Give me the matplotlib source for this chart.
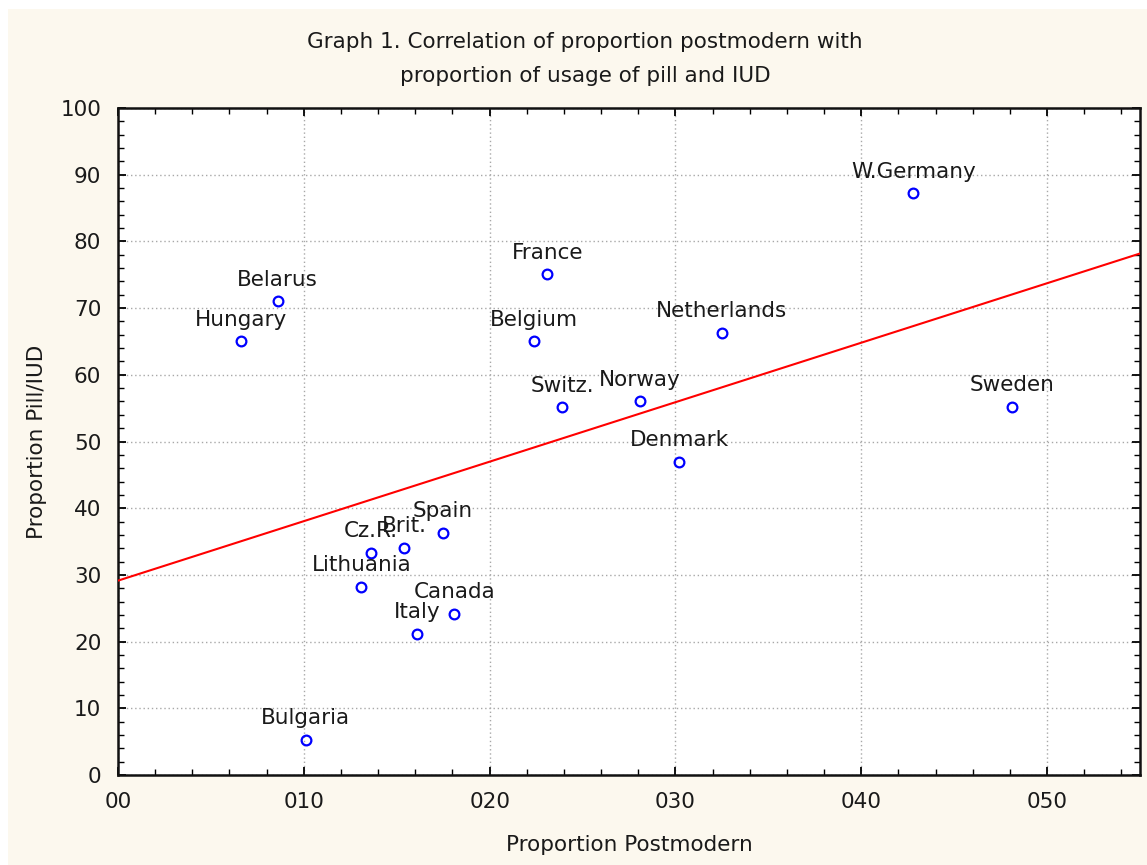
import numpy as np
import matplotlib.pyplot as plt
from matplotlib.patches import Rectangle
from matplotlib.ticker import MultipleLocator, FixedLocator, FixedFormatter

# country values: proportion postmodern vs proportion pill/IUD
countries = ['Hungary', 'Belarus', 'Bulgaria', 'France', 'Belgium', 'Switz.',
             'Norway', 'Netherlands', 'Denmark', 'W.Germany', 'Sweden',
             'Cz.R.', 'Brit.', 'Spain', 'Lithuania', 'Canada', 'Italy']
postmodern = [0.066, 0.086, 0.101, 0.231, 0.224, 0.239,
              0.281, 0.325, 0.302, 0.428, 0.481,
              0.136, 0.154, 0.175, 0.131, 0.181, 0.161]
pill_iud = [65.0, 71.0, 5.3, 75.1, 65.0, 55.1,
            56.0, 66.3, 47.0, 87.2, 55.2,
            33.3, 34.1, 36.3, 28.2, 24.2, 21.2]

xtick_values = [0.0, 0.1, 0.2, 0.3, 0.4, 0.5]
xtick_labels = ['00', '010', '020', '030', '040', '050']

title_lines = ['Graph 1. Correlation of proportion postmodern with',
               'proportion of usage of pill and IUD']

plt.rcParams['font.family'] = 'DejaVu Sans'
plt.rcParams['font.size'] = 15.5

fig = plt.figure(figsize=(11.47, 8.65), dpi=100)
fig.patch.set_facecolor('white')
# cream panel behind the chart
fig.patches.append(Rectangle((8 / 1147, 0), 1 - 8 / 1147, 1 - 9 / 865,
                             transform=fig.transFigure, facecolor='#FCF8EE',
                             edgecolor='none', zorder=-10))

ax = fig.add_axes([118 / 1147, 1 - 775 / 865, (1140 - 118) / 1147, (775 - 108) / 865])
ax.set_facecolor('white')

x = np.array(postmodern)
y = np.array(pill_iud)

# least squares fit line
slope, intercept = np.polyfit(x, y, 1)
xl = np.array([0.0, 0.55])
ax.plot(xl, intercept + slope * xl, color='#FF0000', lw=1.5, zorder=3)

ax.plot(x, y, linestyle='none', marker='o', markersize=7, markerfacecolor='none',
        markeredgecolor='#0000FF', markeredgewidth=1.6, zorder=4)

for name, xv, yv in zip(countries, x, y):
    ax.annotate(name, (xv, yv), xytext=(0, 15.5), textcoords='offset points',
                ha='center', va='center', fontsize=15.5, color='#1a1a1a', zorder=5)

ax.set_xlim(0, 0.55)
ax.set_ylim(0, 100)
ax.xaxis.set_major_locator(FixedLocator(xtick_values))
ax.xaxis.set_major_formatter(FixedFormatter(xtick_labels))
ax.xaxis.set_minor_locator(MultipleLocator(0.02))
ax.yaxis.set_major_locator(MultipleLocator(10))
ax.yaxis.set_minor_locator(MultipleLocator(2))

ax.tick_params(which='both', direction='in', top=True, right=True, color='black')
ax.tick_params(which='major', length=6, width=1.3, pad=12, labelsize=15.5, labelcolor='#1a1a1a')
ax.tick_params(which='minor', length=4, width=1.0)
for sp in ax.spines.values():
    sp.set_linewidth(1.8)
    sp.set_color('#111111')

ax.grid(True, which='major', linestyle=(0, (1, 2)), color='#A8A8A8', lw=1.0)
ax.set_axisbelow(True)

ax.set_xlabel('Proportion Postmodern', fontsize=15.5, labelpad=17, color='#1a1a1a')
ax.set_ylabel('Proportion Pill/IUD', fontsize=15.5, labelpad=10, color='#1a1a1a')

fig.text(585 / 1147, 1 - 42 / 865, title_lines[0],
         ha='center', va='center', fontsize=15.5, color='#1a1a1a')
fig.text(585 / 1147, 1 - 76 / 865, title_lines[1],
         ha='center', va='center', fontsize=15.5, color='#1a1a1a')

fig.savefig('out.png', dpi=100, facecolor=fig.get_facecolor())
